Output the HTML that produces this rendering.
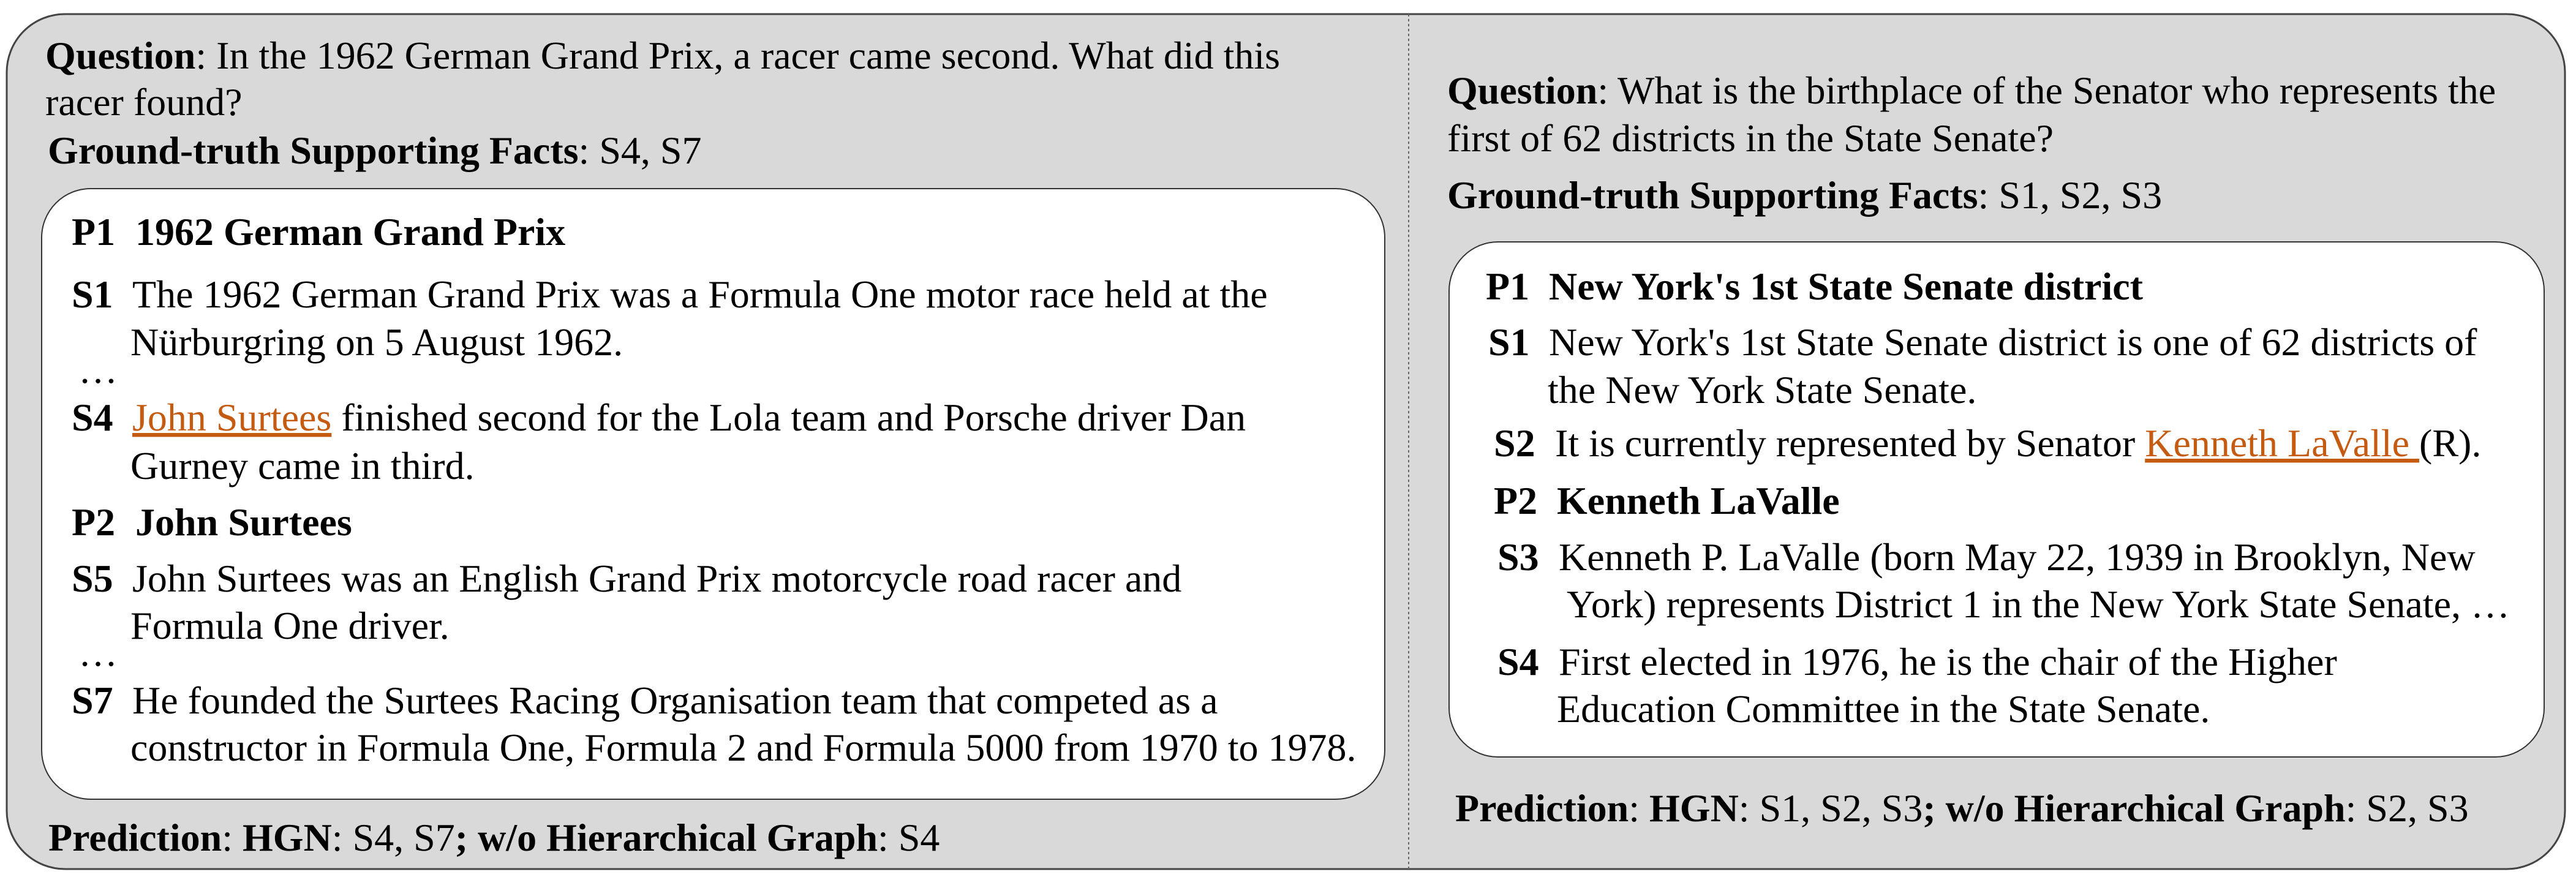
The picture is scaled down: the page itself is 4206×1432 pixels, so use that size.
<!DOCTYPE html>
<html><head><meta charset="utf-8"><style>
html,body{margin:0;padding:0;background:#fff;}
svg{display:block;}
text{font-family:"Liberation Serif","Times New Roman",serif;font-size:64px;fill:#000;}
.b{font-weight:bold;}
.o{fill:#c55a11;}
</style></head><body>
<svg width="4206" height="1432" viewBox="0 0 4206 1432" xmlns="http://www.w3.org/2000/svg">
<rect x="11" y="23" width="4177" height="1396" rx="95" ry="95" fill="#d9d9d9" stroke="#444" stroke-width="3"/>
<line x1="2300" y1="23" x2="2300" y2="1419" stroke="#666" stroke-width="2" stroke-dasharray="4,4"/>

<g>
<text x="74" y="112"><tspan class="b">Question</tspan>: In the 1962 German Grand Prix, a racer came second. What did this</text>
<text x="74" y="188">racer found?</text>
<text x="78" y="267"><tspan class="b">Ground-truth Supporting Facts</tspan>: S4, S7</text>
<rect x="68" y="308" width="2193" height="997" rx="80" ry="80" fill="#fff" stroke="#333" stroke-width="2"/>
<text x="117" y="400" class="b">P1</text>
<text x="221" y="400" class="b">1962 German Grand Prix</text>
<text x="117" y="502" class="b">S1</text>
<text x="216" y="502">The 1962 German Grand Prix was a Formula One motor race held at the</text>
<text x="213" y="580">Nürburgring on 5 August 1962.</text>
<text x="128" y="625">…</text>
<text x="117" y="703" class="b">S4</text>
<text x="216" y="703"><tspan class="o" text-decoration="underline">John Surtees</tspan> finished second for the Lola team and Porsche driver Dan</text>
<text x="213" y="782">Gurney came in third.</text>
<text x="117" y="874" class="b">P2</text>
<text x="221" y="874" class="b">John Surtees</text>
<text x="117" y="966" class="b">S5</text>
<text x="216" y="966">John Surtees was an English Grand Prix motorcycle road racer and</text>
<text x="213" y="1043">Formula One driver.</text>
<text x="128" y="1087">…</text>
<text x="117" y="1165" class="b">S7</text>
<text x="216" y="1165">He founded the Surtees Racing Organisation team that competed as a</text>
<text x="213" y="1242">constructor in Formula One, Formula 2 and Formula 5000 from 1970 to 1978.</text>
<text x="79" y="1389"><tspan class="b">Prediction</tspan>: <tspan class="b">HGN</tspan>: S4, S7<tspan class="b">; w/o Hierarchical Graph</tspan>: S4</text>
</g>

<g>
<text x="2363" y="169"><tspan class="b">Question</tspan>: What is the birthplace of the Senator who represents the</text>
<text x="2363" y="247">first of 62 districts in the State Senate?</text>
<text x="2363" y="340"><tspan class="b">Ground-truth Supporting Facts</tspan>: S1, S2, S3</text>
<rect x="2366" y="395" width="1788" height="841" rx="80" ry="80" fill="#fff" stroke="#333" stroke-width="2"/>
<text x="2426" y="489" class="b">P1</text>
<text x="2529" y="489" class="b">New York's 1st State Senate district</text>
<text x="2430" y="580" class="b">S1</text>
<text x="2529" y="580">New York's 1st State Senate district is one of 62 districts of</text>
<text x="2527" y="658">the New York State Senate.</text>
<text x="2439" y="745" class="b">S2</text>
<text x="2539" y="745">It is currently represented by Senator <tspan class="o" text-decoration="underline">Kenneth LaValle </tspan>(R).</text>
<text x="2439" y="839" class="b">P2</text>
<text x="2542" y="839" class="b">Kenneth LaValle</text>
<text x="2445" y="931" class="b">S3</text>
<text x="2545" y="931">Kenneth P. LaValle (born May 22, 1939 in Brooklyn, New</text>
<text x="2558" y="1008">York) represents District 1 in the New York State Senate, …</text>
<text x="2445" y="1102" class="b">S4</text>
<text x="2545" y="1102">First elected in 1976, he is the chair of the Higher</text>
<text x="2542" y="1179">Education Committee in the  State Senate.</text>
<text x="2376" y="1341"><tspan class="b">Prediction</tspan>: <tspan class="b">HGN</tspan>: S1, S2, S3<tspan class="b">; w/o Hierarchical Graph</tspan>: S2, S3</text>
</g>
</svg>
</body></html>
